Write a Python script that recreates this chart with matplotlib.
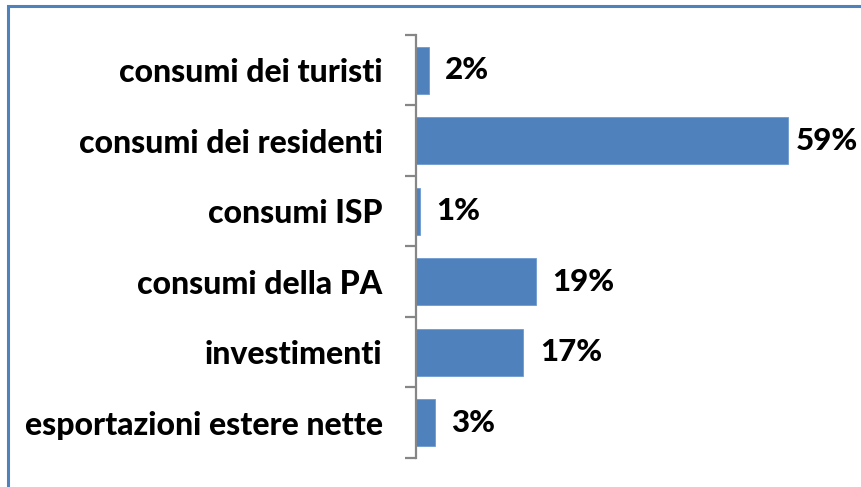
import matplotlib as mpl
import matplotlib.pyplot as plt
from matplotlib.patches import Rectangle
import numpy as np

mpl.rcParams.update({
    "font.family": ["Lato", "DejaVu Sans"],
    "font.weight": "bold",
})

categories = [
    "consumi dei turisti",
    "consumi dei residenti",
    "consumi ISP",
    "consumi della PA",
    "investimenti",
    "esportazioni estere nette",
]
values = [2, 59, 0.6, 19, 17, 3]
value_labels = ["2%", "59%", "1%", "19%", "17%", "3%"]

W, H = 862, 487
fig = plt.figure(figsize=(W / 100, H / 100), dpi=100)
ax = fig.add_axes([416 / W, (H - 458) / H, (857 - 416) / W, (458 - 35) / H])

bar_color = "#4F81BD"
axis_gray = "#868686"

y = np.arange(len(categories))
ax.barh(y, values, height=0.66, color=bar_color, edgecolor="#6F9AD0", linewidth=0.6)

ax.set_xlim(0, 70)
ax.set_ylim(len(categories) - 0.5, -0.5)

for spine in ["top", "right", "bottom"]:
    ax.spines[spine].set_visible(False)
ax.spines["left"].set_color(axis_gray)
ax.spines["left"].set_linewidth(1.6)

ax.set_xticks([])
# tick marks sit on the category boundaries, labels on the centres
ax.set_yticks(np.arange(len(categories) + 1) - 0.5)
ax.set_yticklabels([])
ax.tick_params(axis="y", which="major", direction="out", length=8, width=1.6, color=axis_gray)
ax.set_yticks(y, minor=True)
ax.set_yticklabels(categories, minor=True, fontsize=23, fontweight="black")
ax.tick_params(axis="y", which="minor", length=0, pad=24)

vmax = max(values)
for yi, v, lab in zip(y, values, value_labels):
    off = 6 if v == vmax else 12
    ax.annotate(lab, (v, yi), xytext=(off, 0), textcoords="offset points",
                ha="left", va="center", fontsize=22.5, fontweight="black", color="black")

fig.patches.append(Rectangle((8 / W, -0.05), 1.2, (H - 6) / H + 0.05,
                             transform=fig.transFigure, fill=False,
                             edgecolor=bar_color, linewidth=2.2, zorder=-1))

fig.savefig("out.png", dpi=100)
